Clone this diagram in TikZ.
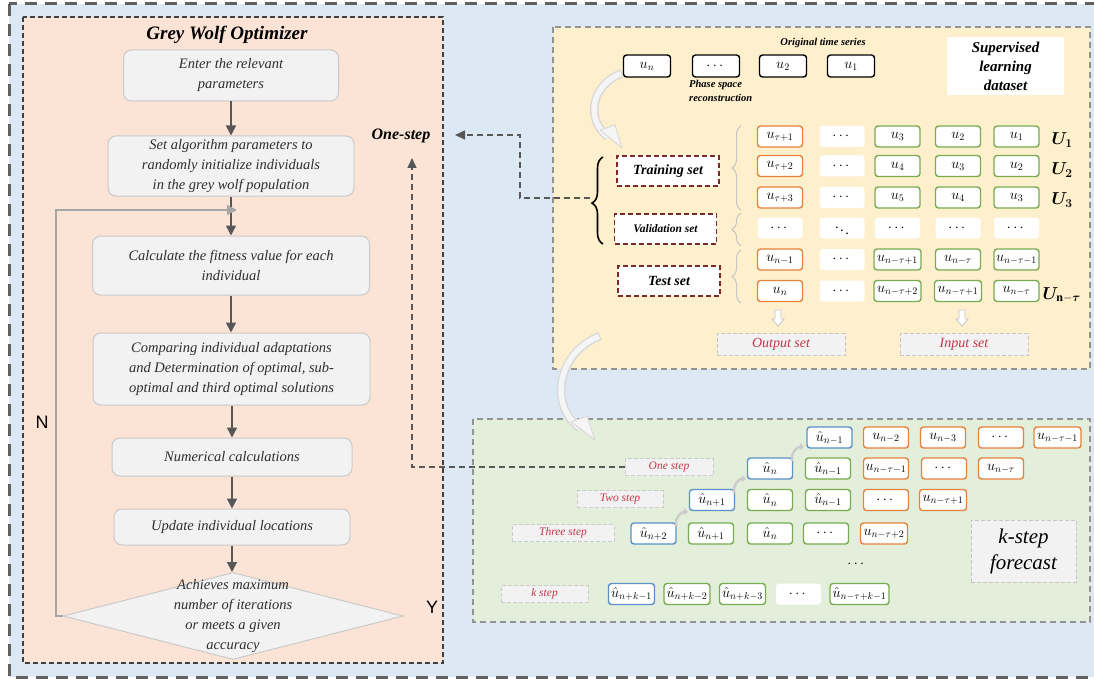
\documentclass[tikz,border=0pt]{standalone}
\usepackage{amsmath,bm}
\usepackage{fontspec}
\setmainfont{Liberation Serif}
\setsansfont{Liberation Sans}
\usetikzlibrary{arrows.meta,shapes.geometric,decorations.pathreplacing,calc}
\definecolor{bgblue}{HTML}{DDE8F5}
\definecolor{peach}{HTML}{FBE3D5}
\definecolor{yel}{HTML}{FEF0CD}
\definecolor{grn}{HTML}{E3EFDA}
\definecolor{boxfill}{HTML}{F2F2F2}
\definecolor{boxline}{HTML}{CACACA}
\definecolor{arrgray}{HTML}{575757}
\definecolor{corange}{HTML}{E5823C}
\definecolor{cgreen}{HTML}{78AC50}
\definecolor{cblue}{HTML}{5A90C8}
\definecolor{cdred}{HTML}{7A2A2A}
\definecolor{cred}{HTML}{C0364A}
\definecolor{txt}{HTML}{2E2E2E}
\newcommand{\hollowdown}[1]{%
  \draw[gray!45, fill=white, line width=0.8pt] ($(#1)+(-3,0)$) -- ++(6,0) -- ++(0,9) -- ++(3,0) -- ++(-6,7) -- ++(-6,-7) -- ++(3,0) -- cycle;}
\begin{document}
\begin{tikzpicture}[x=1pt,y=-1pt,
  flowbox/.style={draw=boxline, fill=boxfill, rounded corners=8pt, line width=1pt, align=center,
     text=txt, font=\fontsize{14.5}{20}\selectfont\itshape, inner sep=2pt},
  flowarrow/.style={draw=arrgray, line width=1.5pt, -{Triangle[length=10pt,width=10pt]}},
  dconn/.style={draw=arrgray, line width=1.5pt, dash pattern=on 6pt off 4pt, -{Triangle[length=10pt,width=9pt]}},
  cell/.style={rounded corners=3pt, line width=1.4pt, fill=white, minimum width=45pt,
     minimum height=21pt, inner sep=1pt, font=\fontsize{14.4}{15}\selectfont},
  oc/.style={cell, draw=corange}, gc/.style={cell, draw=cgreen}, bc/.style={cell, draw=cblue},
  wc/.style={cell, draw=none}, kc/.style={cell, draw=black, minimum width=47pt, minimum height=22pt},
  setbox/.style={draw=cdred, fill=white, line width=1.6pt, dash pattern=on 5pt off 3pt,
     minimum width=102pt, minimum height=30pt, font=\fontsize{14}{16}\selectfont\bfseries\itshape},
  outbox/.style={draw=gray!45, fill=boxfill, line width=1pt, dash pattern=on 4pt off 2pt,
     minimum width=128pt, minimum height=22pt, text=cred, font=\fontsize{14}{16}\selectfont\itshape},
  stepbox/.style={draw=gray!40, fill=boxfill, line width=1pt, dash pattern=on 4pt off 2pt,
     minimum height=17pt, text=cred, font=\fontsize{11.5}{13}\selectfont\itshape, inner sep=1pt},
  lbrace/.style={draw=gray!45, line width=1pt, decorate, decoration={brace, amplitude=9pt}},
  bigarcout/.style={draw=gray!30, line width=8.5pt},
  bigarcin/.style={draw=gray!8, line width=5.5pt},
  bigtip/.style={draw=gray!30, fill=gray!8, line width=1pt, line join=round},
  smallarc/.style={draw=gray!40, line width=2.5pt, -{Triangle[length=4pt,width=7pt]}},
  ulab/.style={anchor=west, font=\fontsize{17.28}{18}\selectfont}
]
\useasboundingbox (0,0) rectangle (1094,679);
\fill[white] (0,0) rectangle (1094,679);
% outer frame
\draw[fill=bgblue, draw=gray!75!black, line width=3pt, dash pattern=on 12pt off 8pt] (9,4) rectangle (1110,677);
% panels
\draw[fill=peach, draw=black!75, line width=1.3pt, dash pattern=on 5pt off 3pt] (23,17) rectangle (443,663);
\draw[fill=yel, draw=gray!85, line width=1.5pt, dash pattern=on 6pt off 4pt] (553,27) rectangle (1090,369);
\draw[fill=grn, draw=gray!85, line width=1.5pt, dash pattern=on 6pt off 4pt] (473,419) rectangle (1090,622);

% ---------- Grey Wolf Optimizer ----------
\node[font=\fontsize{19}{22}\selectfont\bfseries\itshape] (title) at (227,35) {Grey Wolf Optimizer};
\node[flowbox, minimum width=215pt, minimum height=51pt] (b1) at (231,75.5) {Enter the relevant\\parameters};
\node[flowbox, minimum width=246pt, minimum height=60pt] (b2) at (231,166) {Set algorithm parameters to\\randomly initialize individuals\\in the grey wolf population};
\node[flowbox, minimum width=277pt, minimum height=59pt] (b3) at (231,265.5) {Calculate the fitness value for each\\individual};
\node[flowbox, minimum width=277pt, minimum height=72pt] (b4) at (231.5,369) {Comparing individual adaptations\\and Determination of optimal, sub-\\optimal and third optimal solutions};
\node[flowbox, minimum width=240pt, minimum height=38pt] (b5) at (232,457) {Numerical calculations};
\node[flowbox, minimum width=236pt, minimum height=36pt] (b6) at (232,527) {Update individual locations};
\node[diamond, draw=boxline, fill=boxfill, line width=1pt, minimum width=340pt, minimum height=87pt, inner sep=0pt] (dia) at (233,616) {};
\node[align=center, text=txt, font=\fontsize{14.5}{20}\selectfont\itshape] (diat) at (233,616) {Achieves maximum\\number of iterations\\or meets a given\\accuracy};

\draw[flowarrow] (b1.south) -- (b1.south |- b2.north);
\draw[flowarrow] (b2.south) -- (b2.south |- b3.north);
\draw[flowarrow] (b3.south) -- (b3.south |- b4.north);
\draw[flowarrow] (b5.north |- b4.south) -- (b5.north);
\draw[flowarrow] (b5.south) -- (b5.south |- b6.north);
\draw[flowarrow] (b6.south) -- (b6.south |- dia.north);
\coordinate (lpA) at (56,616);
\coordinate (lpB) at (56,210);
\coordinate (lpC) at (237,210);
\draw[draw=gray!70, line width=1.3pt, -{Triangle[length=10pt,width=10pt]}] (dia.west) -- (lpA) -- (lpB) -- (lpC);
\node[font=\sffamily\fontsize{18}{20}\selectfont] (nlab) at (42,422) {N};
\node[font=\sffamily\fontsize{18}{20}\selectfont] (ylab) at (432,607) {Y};

\node[font=\fontsize{16}{18}\selectfont\bfseries\itshape] (onestep) at (401,136) {One-step};

% ---------- Supervised learning dataset ----------
\node[font=\fontsize{10.5}{12}\selectfont\bfseries\itshape] (ots) at (823,43) {Original time series};
\node[kc] (t1) at (647,66) {$u_n$};
\node[kc] (t2) at (716,66) {$\cdots$};
\node[kc] (t3) at (783,66) {$u_2$};
\node[kc] (t4) at (851,66) {$u_1$};
\node[anchor=north west, align=left, inner sep=0pt, font=\fontsize{10.5}{14}\selectfont\bfseries\itshape] (psr) at (689,80) {Phase space\\reconstruction};
\node[fill=white, minimum width=117pt, minimum height=58pt, align=center, font=\fontsize{15}{19}\selectfont\bfseries\itshape] (sld) at (1005.5,66) {Supervised\\learning\\dataset};

% matrix
\node[oc] (m11) at (780,136.5) {$u_{\tau+1}$};
\node[wc] (m12) at (842,136.5) {$\cdots$};
\node[gc] (m13) at (897.5,136.5) {$u_3$};
\node[gc] (m14) at (958,136.5) {$u_2$};
\node[gc] (m15) at (1016.5,136.5) {$u_1$};
\node[oc] (m21) at (780,166) {$u_{\tau+2}$};
\node[wc] (m22) at (842,166) {$\cdots$};
\node[gc] (m23) at (897.5,166) {$u_4$};
\node[gc] (m24) at (958,166) {$u_3$};
\node[gc] (m25) at (1016.5,166) {$u_2$};
\node[oc] (m31) at (780,197.5) {$u_{\tau+3}$};
\node[wc] (m32) at (842,197.5) {$\cdots$};
\node[gc] (m33) at (897.5,197.5) {$u_5$};
\node[gc] (m34) at (958,197.5) {$u_4$};
\node[gc] (m35) at (1016.5,197.5) {$u_3$};
\node[wc] (m41) at (780,228) {$\cdots$};
\node[wc] (m42) at (842,228) {$\ddots$};
\node[wc] (m43) at (897.5,228) {$\cdots$};
\node[wc] (m44) at (958,228) {$\cdots$};
\node[wc] (m45) at (1016.5,228) {$\cdots$};
\node[oc] (m51) at (780,259.5) {$u_{n-1}$};
\node[wc] (m52) at (842,259.5) {$\cdots$};
\node[gc, minimum width=47pt] (m53) at (897.5,259.5) {$u_{n-\tau+1}$};
\node[gc] (m54) at (958,259.5) {$u_{n-\tau}$};
\node[gc] (m55) at (1016.5,259.5) {$u_{n-\tau-1}$};
\node[oc] (m61) at (780,291) {$u_n$};
\node[wc] (m62) at (842,291) {$\cdots$};
\node[gc, minimum width=47pt] (m63) at (897.5,291) {$u_{n-\tau+2}$};
\node[gc, minimum width=47pt] (m64) at (958,291) {$u_{n-\tau+1}$};
\node[gc] (m65) at (1016.5,291) {$u_{n-\tau}$};
\node[ulab] (U1) at (1048,140) {$\bm{U_1}$};
\node[ulab] (U2) at (1048,170) {$\bm{U_2}$};
\node[ulab] (U3) at (1048,200) {$\bm{U_3}$};
\node[ulab] (Un) at (1039,295) {$\bm{U}_{\mathbf{n-\boldsymbol{\tau}}}$};

\coordinate (ha) at (778,310);
\coordinate (hb) at (962,310);
\hollowdown{ha}
\hollowdown{hb}
\node[outbox] (outs) at (781,344.5) {Output set};
\node[outbox] (ins) at (964,344.5) {Input set};

\node[setbox] (train) at (668,171) {Training set};
\node[setbox, font=\fontsize{11.5}{13}\selectfont\bfseries\itshape] (val) at (665.5,229) {Validation set};
\node[setbox] (test) at (669,281) {Test set};
\draw[lbrace] (741,210) -- (741,126);
\draw[lbrace] (741,246) -- (741,213);
\draw[lbrace] (741,303) -- (741,250);
\draw[draw=black, line width=1.6pt, decorate, decoration={brace, amplitude=11pt, aspect=0.47}] (603,244) -- (603,157);
\coordinate (btip) at (590,198);
\coordinate (c1) at (520,198);
\coordinate (c2) at (520,135);
\coordinate (c3) at (455,135);
\draw[dconn] (btip) -- (c1) -- (c2) -- (c3);

% big grey arcs (hollow look)
\draw[bigarcout] (622,73) .. controls (590,86) and (586,120) .. (608,137);
\draw[bigarcin] (621,73.5) .. controls (590,86) and (586,120) .. (608,137);
\draw[bigtip] (600,130) -- (622,148) -- (615,125) -- cycle;
\draw[bigarcout] (600,336) .. controls (558,352) and (548,405) .. (580,428);
\draw[bigarcin] (599,336.5) .. controls (558,352) and (548,405) .. (580,428);
\draw[bigtip] (571,422) -- (595,440) -- (587,416) -- cycle;

% ---------- k-step forecast ----------
\node[bc] (g11) at (829.5,437.5) {$\hat u_{n-1}$};
\node[oc] (g12) at (886,437.5) {$u_{n-2}$};
\node[oc] (g13) at (943,437.5) {$u_{n-3}$};
\node[oc] (g14) at (1001,437.5) {$\cdots$};
\node[oc, minimum width=47pt] (g15) at (1057.5,437.5) {$u_{n-\tau-1}$};
\node[stepbox, minimum width=88pt] (s1) at (669,467) {One step};
\node[bc] (g21) at (770,468.5) {$\hat u_{n}$};
\node[gc] (g22) at (828,468.5) {$\hat u_{n-1}$};
\node[oc] (g23) at (886,468.5) {$u_{n-\tau-1}$};
\node[oc] (g24) at (944,468.5) {$\cdots$};
\node[oc] (g25) at (1001,468.5) {$u_{n-\tau}$};
\node[stepbox, minimum width=86pt] (s2) at (620,499) {Two step};
\node[bc] (g31) at (712,500) {$\hat u_{n+1}$};
\node[gc] (g32) at (770,500) {$\hat u_{n}$};
\node[gc] (g33) at (828,500) {$\hat u_{n-1}$};
\node[oc] (g34) at (886,500) {$\cdots$};
\node[oc, minimum width=47pt] (g35) at (943,500) {$u_{n-\tau+1}$};
\node[stepbox, minimum width=102pt] (s3) at (563,533) {Three step};
\node[bc] (g41) at (653.5,533.5) {$\hat u_{n+2}$};
\node[gc] (g42) at (711,533.5) {$\hat u_{n+1}$};
\node[gc] (g43) at (770,533.5) {$\hat u_{n}$};
\node[gc] (g44) at (826,533.5) {$\cdots$};
\node[oc, minimum width=47pt] (g45) at (884,533.5) {$u_{n-\tau+2}$};
\node[font=\fontsize{14.4}{15}\selectfont] (vd) at (857,564) {$\cdots$};
\node[stepbox, minimum width=87pt] (s4) at (544.5,594) {k step};
\node[bc, minimum width=46pt] (g51) at (631.5,594) {$\hat u_{n+k-1}$};
\node[gc, minimum width=46pt] (g52) at (687,594) {$\hat u_{n+k-2}$};
\node[gc, minimum width=46pt] (g53) at (742.5,594) {$\hat u_{n+k-3}$};
\node[wc] (g54) at (798.5,594) {$\cdots$};
\node[gc, minimum width=59pt] (g55) at (859.5,594) {$\hat u_{n-\tau+k-1}$};
\node[draw=gray!45, fill=boxfill, line width=1pt, dash pattern=on 4pt off 2pt, minimum width=105pt,
  minimum height=62pt, align=center, font=\fontsize{21}{26}\selectfont\itshape] (kf) at (1023.5,551) {k-step\\forecast};

\draw[smallarc] (792,461) to[bend left=55] (804,447);
\draw[smallarc] (734,493) to[bend left=55] (746,479);
\draw[smallarc] (676,526) to[bend left=55] (688,512);

\coordinate (d1) at (412,467);
\coordinate (d2) at (412,158);
\draw[dconn] (s1.west) -- (d1) -- (d2);
\end{tikzpicture}
\end{document}
